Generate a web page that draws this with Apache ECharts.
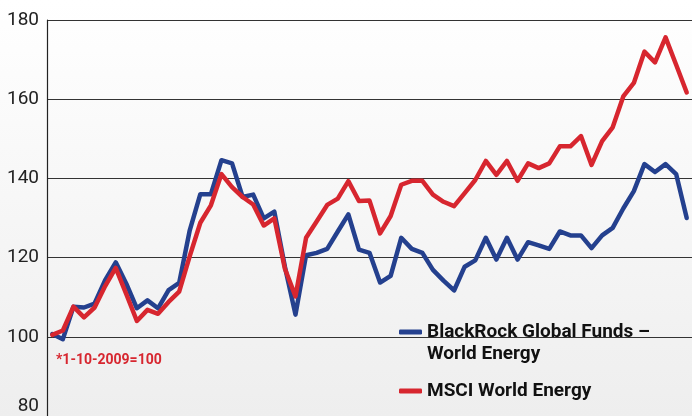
<!DOCTYPE html>
<html>
<head>
<meta charset="utf-8">
<script src="https://cdn.jsdelivr.net/npm/echarts@6/dist/echarts.min.js"></script>
<style>
html, body { margin: 0; padding: 0; }
body { width: 692px; height: 416px; background: linear-gradient(#ffffff, #eeeeee); }
#main { width: 692px; height: 416px; }
</style>
</head>
<body>
<div id="main"></div>
<script>
// monthly index, 1-10-2009 = 100
const months = [];
for (let i = 0; i < 61; i++) {
    const m = (9 + i) % 12 + 1;
    const y = 2009 + Math.floor((9 + i) / 12);
    months.push(m + '-' + y);
}

const blackrock = [
    100.7, 99.4, 107.6, 107.4, 108.4, 114.3, 118.8, 113.4, 107.2, 109.2,
    107.2, 111.8, 113.6, 126.9, 136.0, 136.0, 144.6, 143.8, 135.3, 135.9,
    129.9, 131.6, 117.7, 105.6, 120.6, 121.2, 122.2, 126.6, 130.9, 122.0,
    121.2, 113.7, 115.4, 125.0, 122.2, 121.2, 116.9, 114.2, 111.7, 117.7,
    119.3, 125.0, 119.5, 125.0, 119.5, 123.9, 123.1, 122.2, 126.6, 125.6,
    125.6, 122.4, 125.6, 127.5, 132.4, 136.8, 143.6, 141.6, 143.6, 141.1,
    130.0
];

const msci = [
    100.5, 101.6, 107.6, 104.9, 107.4, 112.8, 117.4, 110.8, 104.0, 106.8,
    105.8, 108.8, 111.4, 120.4, 128.8, 133.2, 141.1, 137.8, 135.3, 133.4,
    128.1, 129.9, 117.2, 110.2, 125.0, 129.1, 133.3, 134.9, 139.3, 134.3,
    134.4, 126.1, 130.5, 138.4, 139.4, 139.4, 135.9, 134.1, 133.0, 136.3,
    139.6, 144.4, 140.9, 144.4, 139.4, 143.8, 142.6, 143.8, 148.1, 148.1,
    150.7, 143.4, 149.4, 152.9, 160.7, 164.1, 172.0, 169.3, 175.6, 168.7,
    161.7
];

const yTicks = [80, 100, 120, 140, 160, 180];

const BLUE = '#24408e';
const RED = '#d7262f';
const nameBR = 'BlackRock Global Funds – World Energy';
const nameMSCI = 'MSCI World Energy';

const legendText = {
    fontFamily: 'Roboto',
    fontWeight: 'bold',
    fontSize: 19,
    color: '#111',
    lineHeight: 22
};

let myChart = echarts.init(document.getElementById('main'));
let option = {
    backgroundColor: 'transparent',
    animation: false,
    grid: {
        left: 47,
        right: 0,
        top: 20,
        height: 401
    },
    xAxis: {
        type: 'category',
        boundaryGap: true,
        data: months,
        axisLine: { show: false },
        axisTick: { show: false },
        axisLabel: { show: false },
        splitLine: { show: false }
    },
    yAxis: {
        type: 'value',
        min: yTicks[0],
        max: yTicks[yTicks.length - 1],
        interval: 20,
        axisLine: { show: true, lineStyle: { color: '#222', width: 1.2 } },
        axisTick: { show: false },
        axisLabel: {
            color: '#222',
            fontFamily: 'Roboto',
            fontSize: 19,
            margin: 8,
            formatter: function (v) {
                return v === 80 ? '{low|80}' : String(v);
            },
            rich: {
                low: { fontFamily: 'Roboto', fontSize: 19, color: '#222', padding: [0, 0, 20, 0] }
            }
        },
        splitLine: { show: true, lineStyle: { color: '#333', width: 1.2 } }
    },
    legend: [
        {
            data: [nameBR],
            orient: 'vertical',
            left: 399,
            top: 299,
            padding: 0,
            icon: 'roundRect',
            itemWidth: 23,
            itemHeight: 5,
            // blank first line keeps the icon level with the first text line
            formatter: function () { return '\nBlackRock Global Funds –\nWorld Energy'; },
            textStyle: legendText
        },
        {
            data: [nameMSCI],
            orient: 'vertical',
            left: 399,
            top: 380,
            padding: 0,
            icon: 'roundRect',
            itemWidth: 23,
            itemHeight: 5,
            textStyle: legendText
        }
    ],
    graphic: [
        {
            type: 'text',
            left: 56,
            top: 353,
            style: {
                text: '*1-10-2009=100',
                fill: RED,
                font: 'bold 14px Roboto'
            }
        }
    ],
    series: [
        {
            name: nameBR,
            type: 'line',
            data: blackrock,
            showSymbol: false,
            symbol: 'none',
            color: BLUE,
            lineStyle: { width: 4.5, color: BLUE, join: 'round', cap: 'round' }
        },
        {
            name: nameMSCI,
            type: 'line',
            data: msci,
            showSymbol: false,
            symbol: 'none',
            color: RED,
            lineStyle: { width: 4.5, color: RED, join: 'round', cap: 'round' }
        }
    ]
};
myChart.setOption(option, true);
window.onresize = myChart.resize;
</script>
</body>
</html>
